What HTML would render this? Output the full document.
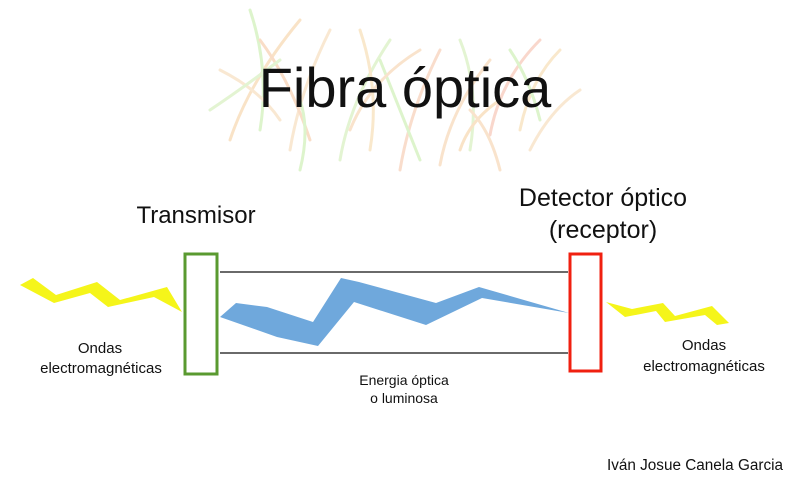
<!DOCTYPE html>
<html><head><meta charset="utf-8"><style>
body{margin:0;background:#fff}
svg{display:block}
text{font-family:"Liberation Sans",sans-serif;fill:#111}
</style></head><body>
<svg width="800" height="504" viewBox="0 0 800 504">
<g fill="none" stroke-width="3" stroke-linecap="round" opacity="0.35">
<path d="M230 140 Q250 80 300 20" stroke="#f0b060"/>
<path d="M260 130 Q270 70 250 10" stroke="#a0e070"/>
<path d="M290 150 Q300 90 330 30" stroke="#f0c080"/>
<path d="M310 140 Q290 80 260 40" stroke="#f0a060"/>
<path d="M340 160 Q350 100 390 40" stroke="#b0e080"/>
<path d="M370 150 Q380 90 360 30" stroke="#f0c070"/>
<path d="M400 170 Q410 110 440 50" stroke="#f0a070"/>
<path d="M420 160 Q400 110 380 60" stroke="#a0e070"/>
<path d="M440 165 Q450 110 490 60" stroke="#f0b070"/>
<path d="M470 150 Q480 90 460 40" stroke="#b0e080"/>
<path d="M490 135 Q500 80 540 40" stroke="#f09070"/>
<path d="M520 130 Q530 80 560 50" stroke="#f0c070"/>
<path d="M540 120 Q530 80 510 50" stroke="#a0e070"/>
<path d="M460 150 Q470 120 500 100" stroke="#f0b060"/>
<path d="M280 120 Q260 90 220 70" stroke="#f0c080"/>
<path d="M350 130 Q370 80 420 50" stroke="#f0b070"/>
<path d="M210 110 Q240 90 280 60" stroke="#b0e080"/>
<path d="M530 150 Q550 110 580 90" stroke="#f0c080"/>
<path d="M300 170 Q310 130 300 100" stroke="#a0e070"/>
<path d="M500 170 Q490 130 470 110" stroke="#f0b070"/>
</g>
<text x="405" y="107" font-size="56" text-anchor="middle">Fibra óptica</text>
<text x="196" y="223" font-size="24" text-anchor="middle">Transmisor</text>
<text x="603" y="206" font-size="25" text-anchor="middle">Detector óptico</text>
<text x="603" y="238" font-size="25" text-anchor="middle">(receptor)</text>
<polygon fill="#f5f51a" points="20,285 33,278 56,295 97,282 120,300 167,287 182,312 154,297 108,307 90,293 54,303"/>
<polygon fill="#f5f51a" points="606,302 632,309 663,303 675,316 712,306 729,323 717,325 705,315 665,322 656,311 625,317"/>
<line x1="220" y1="272" x2="568" y2="272" stroke="#111" stroke-width="1.3"/>
<line x1="220" y1="353" x2="568" y2="353" stroke="#111" stroke-width="1.3"/>
<polygon fill="#6fa8dc" points="220,317 236,303 267,307 313,322 341,278 359,282 436,303 479,287 569,313 482,298 426,325 354,302 318,346 277,337"/>
<rect x="185" y="254" width="32" height="120" fill="none" stroke="#5a9a30" stroke-width="3"/>
<rect x="570" y="254" width="31" height="117" fill="none" stroke="#f02010" stroke-width="3"/>
<text x="100" y="353" font-size="15" text-anchor="middle">Ondas</text>
<text x="101" y="373" font-size="15" text-anchor="middle">electromagnéticas</text>
<text x="704" y="350" font-size="15" text-anchor="middle">Ondas</text>
<text x="704" y="371" font-size="15" text-anchor="middle">electromagnéticas</text>
<text x="404" y="385" font-size="14" text-anchor="middle">Energia óptica</text>
<text x="404" y="403" font-size="14" text-anchor="middle">o luminosa</text>
<text x="783" y="470" font-size="15.3" text-anchor="end">Iván Josue Canela Garcia</text>
</svg>
</body></html>
